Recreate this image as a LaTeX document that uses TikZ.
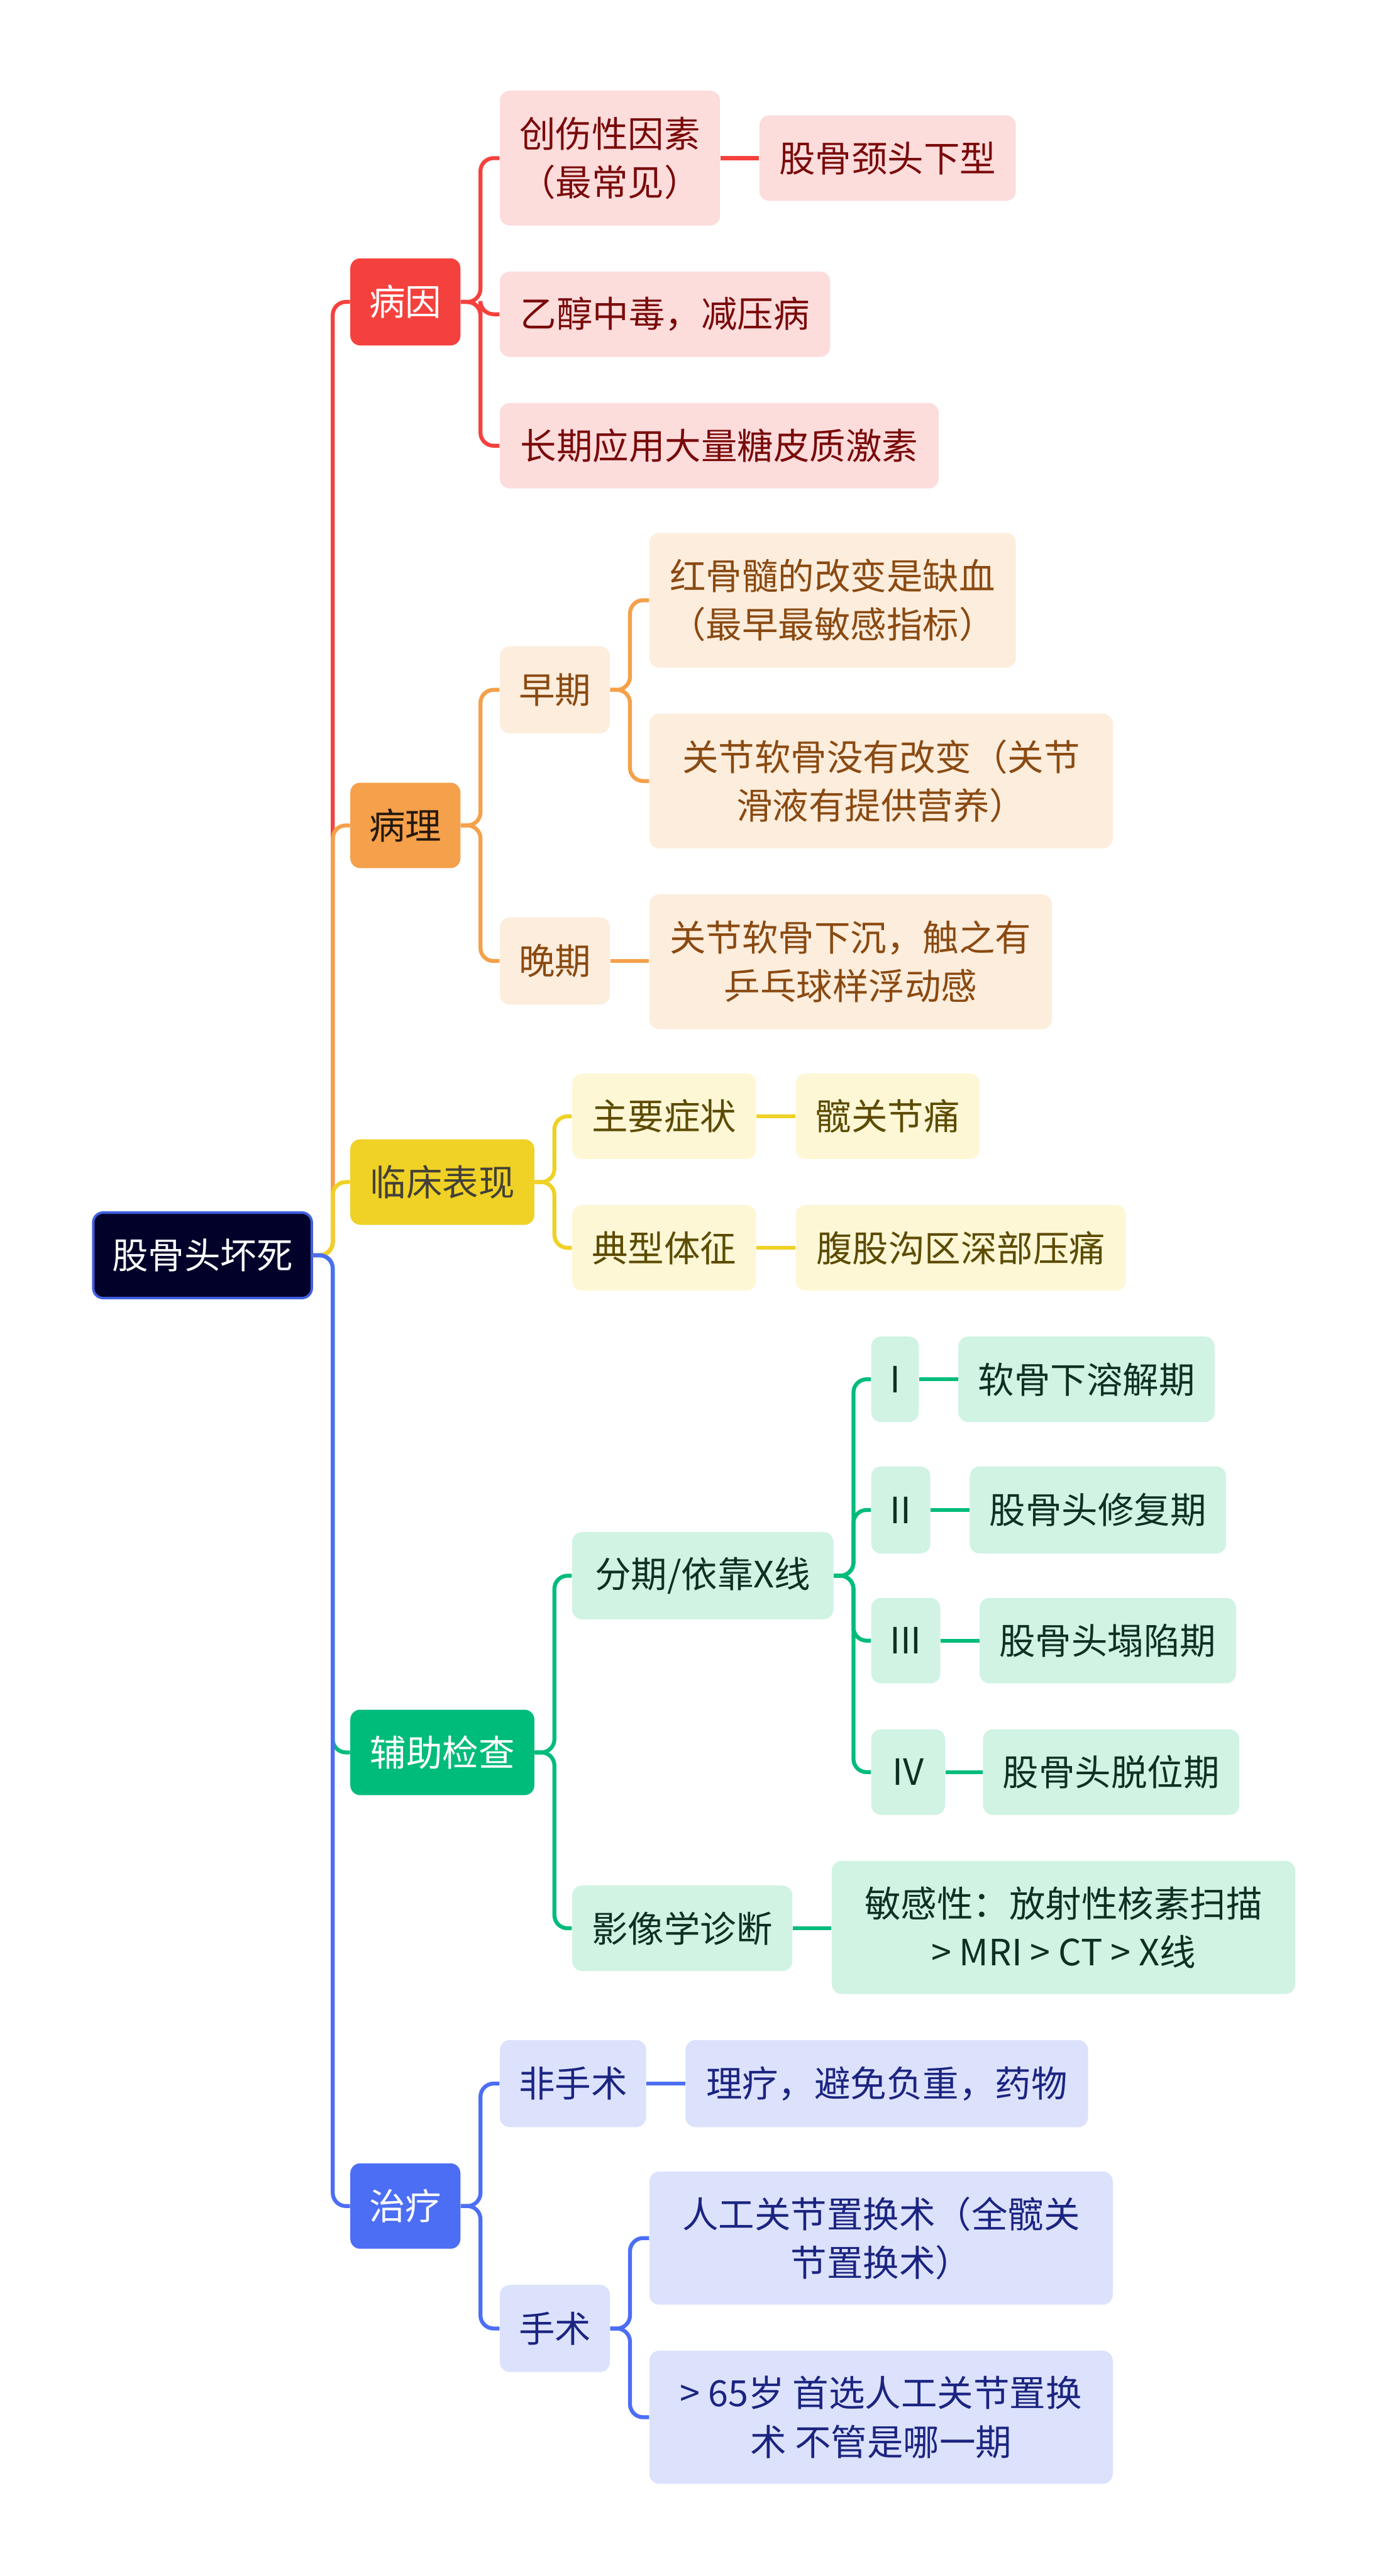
\documentclass[tikz,border=0pt]{standalone}
\usepackage{fontspec}
\setmainfont{Noto Sans CJK SC}
\definecolor{cRed}{HTML}{F5413D}
\definecolor{cOra}{HTML}{F5A04A}
\definecolor{cYel}{HTML}{F0D125}
\definecolor{cGrn}{HTML}{00BC7B}
\definecolor{cBlu}{HTML}{4C6EF5}
\definecolor{fRed}{HTML}{FDDCDC}
\definecolor{fOra}{HTML}{FDEDDC}
\definecolor{fYel}{HTML}{FDF7D6}
\definecolor{fGrn}{HTML}{D0F3E3}
\definecolor{fBlu}{HTML}{DCE2FC}
\definecolor{tRed}{HTML}{7A0A0A}
\definecolor{tOra}{HTML}{8A4A12}
\definecolor{tYel}{HTML}{5C4B00}
\definecolor{tGrn}{HTML}{0F2F22}
\definecolor{tBlu}{HTML}{1B2480}
\definecolor{rootF}{HTML}{01012A}
\definecolor{rootD}{HTML}{4060E0}
\tikzset{
  bx/.style={rounded corners=6pt, inner sep=0pt, align=center, font=\fontsize{22}{29.5}\selectfont},
  conn/.style={line width=2.4pt, rounded corners=8pt},
  rootbox/.style={bx, fill=rootF, draw=rootD, line width=1.5pt, text=white},
  redL/.style={bx, fill=cRed, text=white},
  oraL/.style={bx, fill=cOra, text=black!80!brown},
  yelL/.style={bx, fill=cYel, text=black!85!yellow},
  grnL/.style={bx, fill=cGrn, text=white},
  bluL/.style={bx, fill=cBlu, text=white},
  redS/.style={bx, fill=fRed, text=tRed},
  oraS/.style={bx, fill=fOra, text=tOra},
  yelS/.style={bx, fill=fYel, text=tYel},
  grnS/.style={bx, fill=fGrn, text=tGrn},
  bluS/.style={bx, fill=fBlu, text=tBlu},
}
\newcommand\nd[7]{\node[#6,anchor=north west,minimum width=#4pt,minimum height=#5pt] (#1) at (#2,#3) {#7};}
\newcommand\br[3]{\draw[conn,#1] (#2.east) -- ++(12,0) |- (#3.west);}
\newcommand\st[3]{\draw[line width=2.4pt,#1] (#2.east) -- (#2.east -| #3.west);}
\begin{document}
\begin{tikzpicture}[x=1pt,y=-1pt]
\useasboundingbox (0,0) rectangle (844,1567.3);
% nodes
\nd{root}{56}{737}{133}{52}{rootbox}{股骨头坏死}
\nd{a}{213}{157}{67}{53}{redL}{病因}
\nd{b}{213}{476}{67}{52}{oraL}{病理}
\nd{c}{213}{693}{112}{52}{yelL}{临床表现}
\nd{d}{213}{1040}{112}{52}{grnL}{辅助检查}
\nd{e}{213}{1316}{67}{52}{bluL}{治疗}
%
\nd{a1}{304}{55}{134}{82}{redS}{创伤性因素\\（最常见）}
\nd{a11}{462}{70}{156}{52}{redS}{股骨颈头下型}
\nd{a2}{304}{165}{201}{52}{redS}{乙醇中毒，减压病}
\nd{a3}{304}{245}{267}{52}{redS}{长期应用大量糖皮质激素}
%
\nd{b1}{304}{393}{67}{53}{oraS}{早期}
\nd{b11}{395}{324}{223}{82}{oraS}{红骨髓的改变是缺血\\（最早最敏感指标）}
\nd{b12}{395}{434}{282}{82}{oraS}{关节软骨没有改变（关节\\滑液有提供营养）}
\nd{b2}{304}{558}{67}{53}{oraS}{晚期}
\nd{b21}{395}{544}{245}{82}{oraS}{关节软骨下沉，触之有\\乒乓球样浮动感}
%
\nd{c1}{348}{653}{112}{52}{yelS}{主要症状}
\nd{c11}{484}{653}{112}{52}{yelS}{髋关节痛}
\nd{c2}{348}{733}{112}{52}{yelS}{典型体征}
\nd{c21}{484}{733}{201}{52}{yelS}{腹股沟区深部压痛}
%
\nd{d1}{348}{932}{159}{53}{grnS}{分期/依靠X线}
\nd{d11}{530}{813}{29}{52}{grnS}{I}
\nd{d111}{583}{813}{156}{52}{grnS}{软骨下溶解期}
\nd{d12}{530}{892}{36}{53}{grnS}{II}
\nd{d121}{590}{892}{156}{53}{grnS}{股骨头修复期}
\nd{d13}{530}{972}{42}{52}{grnS}{III}
\nd{d131}{596}{972}{156}{52}{grnS}{股骨头塌陷期}
\nd{d14}{530}{1052}{45}{52}{grnS}{IV}
\nd{d141}{598}{1052}{156}{52}{grnS}{股骨头脱位期}
\nd{d2}{348}{1147}{134}{52}{grnS}{影像学诊断}
\nd{d21}{506}{1132}{282}{81}{grnS}{敏感性：放射性核素扫描\\> MRI > CT > X线}
%
\nd{e1}{304}{1241}{89}{53}{bluS}{非手术}
\nd{e11}{417}{1241}{245}{53}{bluS}{理疗，避免负重，药物}
\nd{e2}{304}{1390}{67}{53}{bluS}{手术}
\nd{e21}{395}{1321}{282}{81}{bluS}{人工关节置换术（全髋关\\节置换术）}
\nd{e22}{395}{1430}{282}{81}{bluS}{> 65岁 首选人工关节置换\\术 不管是哪一期}
% connectors
\br{cRed}{root}{a}
\br{cOra}{root}{b}
\br{cYel}{root}{c}
\br{cGrn}{root}{d}
\br{cBlu}{root}{e}
\br{cRed}{a}{a1}\br{cRed}{a}{a2}\br{cRed}{a}{a3}
\st{cRed}{a1}{a11}
\br{cOra}{b}{b1}\br{cOra}{b}{b2}
\br{cOra}{b1}{b11}\br{cOra}{b1}{b12}
\st{cOra}{b2}{b21}
\br{cYel}{c}{c1}\br{cYel}{c}{c2}
\st{cYel}{c1}{c11}\st{cYel}{c2}{c21}
\br{cGrn}{d}{d1}\br{cGrn}{d}{d2}
\br{cGrn}{d1}{d11}\br{cGrn}{d1}{d12}\br{cGrn}{d1}{d13}\br{cGrn}{d1}{d14}
\st{cGrn}{d11}{d111}\st{cGrn}{d12}{d121}\st{cGrn}{d13}{d131}\st{cGrn}{d14}{d141}
\st{cGrn}{d2}{d21}
\br{cBlu}{e}{e1}\br{cBlu}{e}{e2}
\st{cBlu}{e1}{e11}
\br{cBlu}{e2}{e21}\br{cBlu}{e2}{e22}
\end{tikzpicture}
\end{document}
